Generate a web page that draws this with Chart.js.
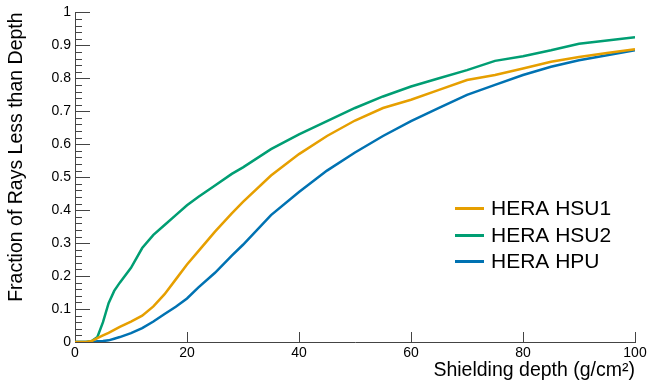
<!DOCTYPE html>
<html>
<head>
<meta charset="utf-8">
<script src="https://cdn.jsdelivr.net/npm/chart.js@4"></script>
<style>
  body { margin: 0; background: #fff; }
  #wrap { width: 651px; height: 387px; }
</style>
</head>
<body>
<div id="wrap"><canvas id="myChart"></canvas></div>
<script>
// Datos
const depths = [0, 2, 3, 4, 5, 6, 7, 8, 10, 12, 14, 16, 18, 20, 22, 25, 28, 30, 35, 40, 45, 50, 55, 60, 65, 70, 75, 80, 85, 90, 95, 100];
const hsu1 = [0, 0, 0.003, 0.012, 0.02, 0.028, 0.037, 0.046, 0.062, 0.08, 0.108, 0.145, 0.19, 0.235, 0.275, 0.335, 0.39, 0.425, 0.505, 0.57, 0.625, 0.672, 0.71, 0.735, 0.765, 0.795, 0.81, 0.83, 0.85, 0.865, 0.877, 0.888];
const hsu2 = [0, 0, 0.003, 0.015, 0.06, 0.118, 0.155, 0.18, 0.225, 0.285, 0.325, 0.355, 0.385, 0.415, 0.44, 0.475, 0.51, 0.53, 0.585, 0.63, 0.67, 0.71, 0.745, 0.775, 0.8, 0.825, 0.853, 0.867, 0.885, 0.905, 0.915, 0.925];
const hpu = [0, 0, 0, 0.002, 0.003, 0.005, 0.01, 0.015, 0.027, 0.042, 0.062, 0.085, 0.107, 0.132, 0.165, 0.21, 0.262, 0.295, 0.385, 0.455, 0.52, 0.575, 0.625, 0.67, 0.71, 0.75, 0.78, 0.81, 0.835, 0.855, 0.87, 0.885];
const seriesNames = ['HERA HSU1', 'HERA HSU2', 'HERA HPU'];
const xTickLabels = ['0', '20', '40', '60', '80', '100'];
const yTickLabels = ['0', '0.1', '0.2', '0.3', '0.4', '0.5', '0.6', '0.7', '0.8', '0.9', '1'];

const FONT = "'Liberation Sans', Arial, Helvetica, sans-serif";

function toPoints(values) {
    return depths.map((d, i) => ({ x: d, y: values[i] }));
}

// ticks hacia dentro, estilo ROOT
const innerTicks = {
    id: 'innerTicks',
    afterDraw(chart) {
        const ctx = chart.ctx;
        const xs = chart.scales.x;
        const ys = chart.scales.y;
        const area = chart.chartArea;
        ctx.save();
        ctx.strokeStyle = '#444';
        ctx.lineWidth = 1;
        ctx.beginPath();
        for (let i = 0; i <= 50; i++) {
            const py = Math.round(ys.getPixelForValue(i * 0.02)) + 0.5;
            const len = (i % 5 === 0) ? 15 : 7;
            ctx.moveTo(area.left, py);
            ctx.lineTo(area.left + len, py);
        }
        for (let v = 20; v <= 100; v += 20) {
            const px = Math.round(xs.getPixelForValue(v)) + 0.5;
            ctx.moveTo(px, area.bottom);
            ctx.lineTo(px, area.bottom - 10);
        }
        ctx.stroke();
        ctx.restore();
    }
};

// leyenda dentro del area del grafico
const innerLegend = {
    id: 'innerLegend',
    afterDraw(chart) {
        const ctx = chart.ctx;
        ctx.save();
        ctx.font = '21px ' + FONT;
        ctx.textBaseline = 'middle';
        chart.data.datasets.forEach((ds, i) => {
            const y = Math.round(208 + i * 26.7) + 0.5;
            ctx.strokeStyle = ds.borderColor;
            ctx.lineWidth = 3;
            ctx.beginPath();
            ctx.moveTo(455, y);
            ctx.lineTo(484, y);
            ctx.stroke();
            ctx.fillStyle = '#000';
            ctx.fillText(ds.label, 491, y + 1);
        });
        ctx.restore();
    }
};

const ctx = document.getElementById('myChart').getContext('2d');
const myChart = new Chart(ctx, {
    type: 'line',
    data: {
        datasets: [
            { label: seriesNames[0], data: toPoints(hsu1), borderColor: '#E69F00' },
            { label: seriesNames[1], data: toPoints(hsu2), borderColor: '#009E73' },
            { label: seriesNames[2], data: toPoints(hpu), borderColor: '#0072B2' }
        ]
    },
    options: {
        responsive: true,
        maintainAspectRatio: false,
        animation: false,
        layout: { padding: { top: 12, right: 16, left: 0, bottom: 0 } },
        elements: {
            point: { radius: 0 },
            line: { borderWidth: 2.5, tension: 0, fill: false }
        },
        plugins: {
            legend: { display: false },
            tooltip: { enabled: false }
        },
        scales: {
            x: {
                type: 'linear',
                min: 0,
                max: 100,
                afterFit: (s) => { s.height = 45; },
                grid: { display: false, drawTicks: false },
                border: { display: true, color: '#444', width: 1 },
                ticks: {
                    stepSize: 20,
                    padding: 3,
                    color: '#000',
                    font: { family: FONT, size: 14 },
                    callback: (v) => xTickLabels[v / 20]
                },
                title: {
                    display: true,
                    text: 'Shielding depth (g/cm²)',
                    align: 'end',
                    color: '#000',
                    font: { family: FONT, size: 19.5 },
                    padding: { top: 0, bottom: 5 }
                }
            },
            y: {
                min: 0,
                max: 1,
                afterFit: (s) => { s.width = 75; },
                grid: { display: false, drawTicks: false },
                border: { display: true, color: '#444', width: 1 },
                ticks: {
                    stepSize: 0.1,
                    padding: 4,
                    color: '#000',
                    font: { family: FONT, size: 14 },
                    callback: (v) => yTickLabels[Math.round(v * 10)]
                },
                title: {
                    display: true,
                    text: 'Fraction of Rays Less than Depth',
                    align: 'end',
                    color: '#000',
                    font: { family: FONT, size: 19.5 },
                    padding: { top: 5, bottom: 0 }
                }
            }
        }
    },
    plugins: [innerTicks, innerLegend]
});
</script>
</body>
</html>
